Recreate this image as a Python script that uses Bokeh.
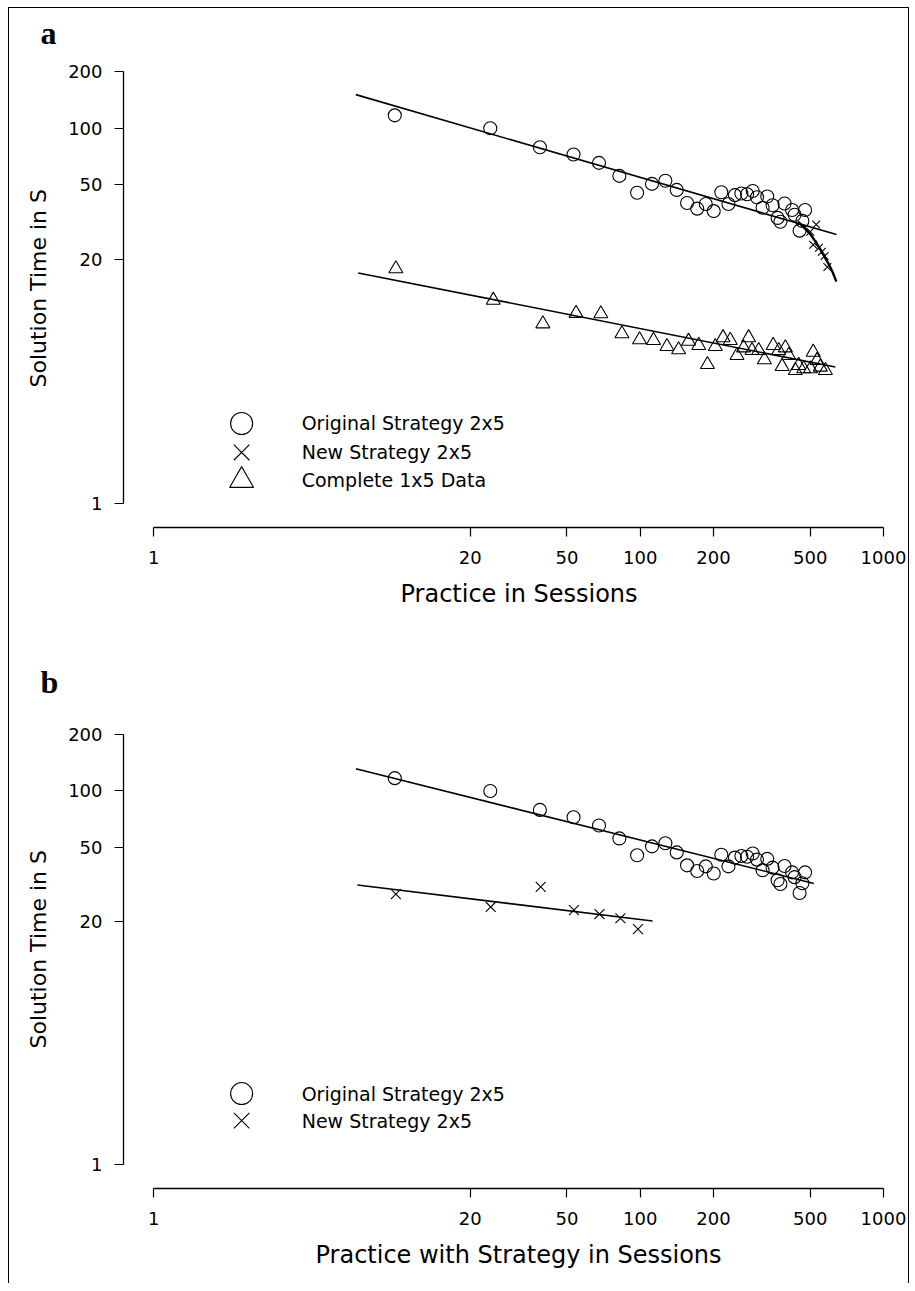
from bokeh.plotting import figure
from bokeh.layouts import column
from bokeh.models import Range1d, FixedTicker, PrintfTickFormatter, Title
from bokeh.core.properties import value
from bokeh.embed import file_html
from bokeh.resources import INLINE

# ---------------- data ----------------
x_ticks = [1, 20, 50, 100, 200, 500, 1000]
y_ticks = [1, 20, 50, 100, 200]

# Original strategy 2x5 (same sessions in both panels)
orig_x = [9.8, 24.2, 38.7, 53.2, 67.7, 82.1, 97.1, 111.8, 126.9, 141.3, 155.8,
          171.5, 186, 200.5, 215.5, 230.5, 245, 260.5, 275, 290, 302, 318.5,
          332.8, 350, 367, 377, 392, 421, 431, 452, 464, 476]
orig_y = [116.8, 99.7, 79, 72.2, 65.2, 55.6, 45.2, 50.4, 52.4, 46.8, 39.9,
          37.2, 39.4, 36.1, 45.5, 39.4, 43.9, 44.8, 44.4, 46.2, 42.8, 37.6,
          43.2, 38.8, 33.2, 31.7, 39.6, 36.6, 34.5, 28.4, 32.0, 36.6]

# Complete 1x5 data (panel a)
tri_x = [9.9, 24.9, 39.8, 54.5, 68.9, 84.1, 99.4, 113.4, 128.8, 143.8, 158,
         174, 189, 203.5, 219, 234.5, 250, 266, 279, 288, 307, 324, 352, 371,
         383, 395, 408, 434, 448, 470, 501, 514, 533, 550, 577]
tri_y = [17.8, 12.1, 9.06, 10.3, 10.25, 8.02, 7.45, 7.39, 6.86, 6.59, 7.32,
         6.95, 5.50, 6.86, 7.64, 7.39, 6.15, 6.75, 7.64, 6.53, 6.53, 5.83,
         6.95, 6.53, 5.37, 6.75, 6.15, 5.11, 5.44, 5.22, 5.22, 6.40, 5.78,
         5.33, 5.11]

# New strategy 2x5: panel a (total sessions) and panel b (sessions with strategy)
new_x_a = [500, 514, 529, 543, 558, 573, 588]
new_x_b = [9.9, 24.3, 39, 53.4, 68, 82.9, 97.9]
new_y = [28.0, 23.9, 30.6, 23.0, 21.9, 20.8, 18.2]

# fitted curves
fit_orig_a_x = [6.78, 641]
fit_orig_a_y = [150.6, 27.1]
fit_tri_a_x = [6.93, 634]
fit_tri_a_y = [16.9, 5.33]
fit_new_a_x = [445, 475, 500, 525, 550, 575, 600, 620, 640]
fit_new_a_y = [31.7, 29.2, 27.2, 24.9, 22.6, 20.4, 18.5, 16.9, 15.2]
fit_orig_b_x = [6.78, 517]
fit_orig_b_y = [131.1, 31.9]
fit_new_b_x = [6.88, 112.4]
fit_new_b_y = [31.3, 20.1]

# legend entries
labels_a = ["Original Strategy 2x5", "New Strategy 2x5", "Complete 1x5 Data"]
labels_b = ["Original Strategy 2x5", "New Strategy 2x5"]
markers_a = ["circle", "x", "triangle"]
markers_b = ["circle", "x"]

# ---------------- styling ----------------
FONT = "DejaVu Sans"
W = 899
LEG_MARK_X = 2.30     # legend layout (data-space anchor of legend symbols)
LEG_TEXT_X = 4.06
LEG_SIZES = {"circle": 22, "x": 22, "triangle": 24}


def make_panel(height, top, bottom, letter, letter_standoff, gap,
               xlabel, xoff):
    p = figure(width=W, height=height, x_axis_type="log", y_axis_type="log",
               x_range=Range1d(0.752, 1000), y_range=Range1d(0.745, 200),
               output_backend="svg", toolbar_location=None,
               min_border_left=113, min_border_right=25,
               min_border_top=top, min_border_bottom=bottom)
    p.grid.visible = False
    p.outline_line_color = None
    p.background_fill_color = "white"
    p.border_fill_color = "white"
    # spacer between the frame and the panel letter, then the letter itself
    p.add_layout(Title(text="\u00a0", standoff=gap, text_font_size="2px"),
                 "above")
    p.add_layout(Title(text=letter, align="left", offset=-83,
                       standoff=letter_standoff, text_font="Liberation Serif",
                       text_font_style="bold", text_font_size="32px",
                       text_color="black"), "above")

    p.xaxis.ticker = FixedTicker(ticks=x_ticks, minor_ticks=[])
    p.yaxis.ticker = FixedTicker(ticks=y_ticks, minor_ticks=[])
    p.xaxis.formatter = PrintfTickFormatter(format="%d")
    p.yaxis.formatter = PrintfTickFormatter(format="%d")
    p.xaxis.bounds = (1, 1000)
    p.yaxis.bounds = (1, 200)
    for ax in (p.xaxis[0], p.yaxis[0]):
        ax.axis_line_color = "black"
        ax.axis_line_width = 1.3
        ax.major_tick_line_color = "black"
        ax.major_tick_line_width = 1.2
        ax.major_tick_out = 9
        ax.major_tick_in = 0
        ax.minor_tick_out = 0
        ax.minor_tick_in = 0
        ax.major_label_text_font = FONT
        ax.major_label_text_font_size = "18px"
        ax.major_label_text_color = "black"
    p.xaxis.major_label_standoff = 14
    p.yaxis.major_label_standoff = 12
    # axis titles (placed as side titles so that they sit where the original has them)
    p.add_layout(Title(text=xlabel, align="left", offset=xoff, standoff=22,
                       text_font=FONT, text_font_style="normal",
                       text_font_size="24px", text_color="black"), "below")
    p.add_layout(Title(text="Solution Time in S", align="left", offset=140,
                       standoff=29, text_font=FONT, text_font_style="normal",
                       text_font_size="22px", text_color="black"), "left")
    return p


def add_legend(p, labels, markers, rows_y):
    for lab, mkr, yy in zip(labels, markers, rows_y):
        p.scatter([LEG_MARK_X], [yy], marker=mkr, size=LEG_SIZES[mkr],
                  line_color="black", fill_color=None, line_width=1.1)
        p.text([LEG_TEXT_X], [yy], text=[lab], text_font=value(FONT),
               text_font_size="19px", text_baseline="middle",
               text_align="left", text_color="black")


mk = dict(line_color="black", fill_color=None, line_width=1.1)

# ---------------- panel a ----------------
pa = make_panel(640, 63, 121, "a", 5, 14, "Practice in Sessions", 277)
pa.line(fit_orig_a_x, fit_orig_a_y, line_color="black", line_width=1.6)
pa.line(fit_tri_a_x, fit_tri_a_y, line_color="black", line_width=1.6)
pa.line(fit_new_a_x, fit_new_a_y, line_color="black", line_width=2.4)
pa.scatter(orig_x, orig_y, marker="circle", size=13, **mk)
pa.scatter(new_x_a, new_y, marker="x", size=11, **mk)
pa.scatter(tri_x, tri_y, marker="triangle", size=14, **mk)
add_legend(pa, labels_a, markers_a, [2.668, 1.870, 1.326])

# ---------------- panel b ----------------
pb = make_panel(635, 86, 95, "b", 21, 20,
                "Practice with Strategy in Sessions", 192)
pb.line(fit_orig_b_x, fit_orig_b_y, line_color="black", line_width=1.6)
pb.line(fit_new_b_x, fit_new_b_y, line_color="black", line_width=1.6)
pb.scatter(orig_x, orig_y, marker="circle", size=13, **mk)
pb.scatter(new_x_b, new_y, marker="x", size=14, **mk)
add_legend(pb, labels_b, markers_b, [2.399, 1.720])

layout = column(pa, pb, margin=(7, 0, 0, 8),
                styles={"border-top": "1px solid black",
                        "border-left": "1px solid black",
                        "border-right": "1px solid black"})

open("out.html", "w").write(file_html(layout, INLINE))
